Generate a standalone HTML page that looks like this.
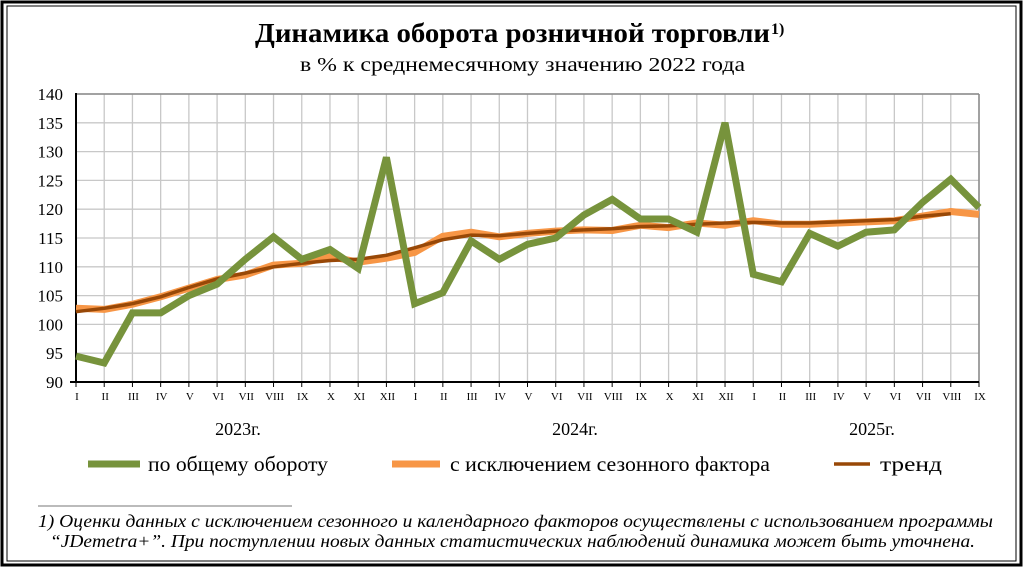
<!DOCTYPE html>
<html><head><meta charset="utf-8"><style>
html,body{margin:0;padding:0;background:#fff;}
svg{display:block;font-family:"Liberation Serif",serif;}
</style></head><body>
<svg width="1027" height="569" viewBox="0 0 1027 569" xmlns="http://www.w3.org/2000/svg">
<rect x="0" y="0" width="1027" height="569" fill="#fff"/>
<rect x="2" y="2" width="1019" height="563" fill="none" stroke="#000" stroke-width="3"/>
<rect x="7" y="6" width="1009" height="555" fill="none" stroke="#000" stroke-width="1"/>
<text x="255" y="42" font-size="27" font-weight="bold" textLength="515" lengthAdjust="spacingAndGlyphs">Динамика оборота розничной торговли</text>
<text x="771" y="34" font-size="16" font-weight="bold">1)</text>
<text x="300" y="71" font-size="20" textLength="445" lengthAdjust="spacingAndGlyphs">в % к среднемесячному значению 2022  года</text>
<g id="grid" stroke="#c8c8c8" stroke-width="1.3"></g>
<g id="lab" font-size="17" text-anchor="end"></g>
<g id="xl" font-size="11" text-anchor="middle"></g>
<line x1="76" y1="94" x2="979" y2="94" stroke="#888" stroke-width="1.5"/>
<line x1="979" y1="94" x2="979" y2="382" stroke="#888" stroke-width="1.5"/>
<line x1="76" y1="93" x2="76" y2="383" stroke="#000" stroke-width="2"/>
<line x1="70" y1="382" x2="979" y2="382" stroke="#000" stroke-width="2"/>
<polyline id="sa" fill="none" stroke="#f79646" stroke-width="7" stroke-linejoin="round"/>
<polyline id="tr" fill="none" stroke="#984807" stroke-width="3.5" stroke-linejoin="round"/>
<polyline id="gr" fill="none" stroke="#77933c" stroke-width="7" stroke-linejoin="miter"/>
<text x="238" y="435" text-anchor="middle" font-size="18">2023г.</text>
<text x="575" y="435" text-anchor="middle" font-size="18">2024г.</text>
<text x="872" y="435" text-anchor="middle" font-size="18">2025г.</text>
<line x1="88" y1="464" x2="140" y2="464" stroke="#77933c" stroke-width="7"/>
<text x="148" y="471" font-size="21" textLength="180" lengthAdjust="spacingAndGlyphs">по общему  обороту</text>
<line x1="392" y1="464" x2="440" y2="464" stroke="#f79646" stroke-width="7"/>
<text x="450" y="471" font-size="21" textLength="320" lengthAdjust="spacingAndGlyphs">с исключением  сезонного фактора</text>
<line x1="834" y1="464" x2="870" y2="464" stroke="#984807" stroke-width="3.5"/>
<text x="880" y="471" font-size="21" textLength="62" lengthAdjust="spacingAndGlyphs">тренд</text>
<line x1="38" y1="506" x2="292" y2="506" stroke="#777" stroke-width="1"/>
<text x="38" y="527" font-size="18" font-style="italic" textLength="955" lengthAdjust="spacingAndGlyphs">1) Оценки данных с исключением сезонного и календарного факторов осуществлены с использованием  программы</text>
<text x="50" y="547" font-size="18" font-style="italic" textLength="925" lengthAdjust="spacingAndGlyphs">“JDemetra+”. При поступлении новых данных статистических наблюдений динамика может быть уточнена.</text>
</svg>
<script>
const x0=76,dx=(979-76)/32,y=v=>382-(v-90)*5.76;
const ns="http://www.w3.org/2000/svg";
const g=document.getElementById('grid'),lab=document.getElementById('lab'),xl=document.getElementById('xl');
function el(p,t,a,txt){const e=document.createElementNS(ns,t);for(const k in a)e.setAttribute(k,a[k]);if(txt)e.textContent=txt;p.appendChild(e);}
for(let v=90;v<=140;v+=5){el(g,'line',{x1:76,x2:979,y1:y(v),y2:y(v)});el(lab,'text',{x:63,y:y(v)+6},String(v));}
const m=['I','II','III','IV','V','VI','VII','VIII','IX','X','XI','XII'];
for(let i=0;i<33;i++){const x=x0+dx*i;el(g,'line',{x1:x,x2:x,y1:94,y2:382});el(xl,'line',{x1:x,x2:x,y1:382,y2:387,stroke:'#000','stroke-width':1});el(xl,'text',{x:x+1,y:400},m[i%12]);}
const G=[94.5,93.3,102,102,105,107,111.3,115.2,111.3,113,109.7,129,103.6,105.5,114.5,111.3,113.9,115,119,121.7,118.3,118.3,116,135,108.7,107.4,115.8,113.6,116,116.4,121.2,125.2,120.3];
const S=[102.8,102.6,103.5,104.8,106.3,107.8,108.6,110.3,110.6,111.8,110.8,111.5,112.5,115.3,116,115.2,115.8,116.2,116.4,116.3,117.2,116.8,117.6,117.2,118,117.4,117.4,117.6,117.8,118,118.8,119.6,119.1];
const T=[102.2,102.8,103.6,104.8,106.4,107.9,108.9,110,110.6,111.1,111.3,112,113.3,114.7,115.5,115.4,115.8,116.2,116.4,116.6,117,117.1,117.4,117.6,117.7,117.6,117.6,117.8,118,118.2,118.8,119.2];
const pts=a=>a.map((v,i)=>(x0+dx*i).toFixed(1)+','+y(v).toFixed(1)).join(' ');
document.getElementById('gr').setAttribute('points',pts(G));
document.getElementById('sa').setAttribute('points',pts(S));
document.getElementById('tr').setAttribute('points',pts(T));
</script>
</body></html>
